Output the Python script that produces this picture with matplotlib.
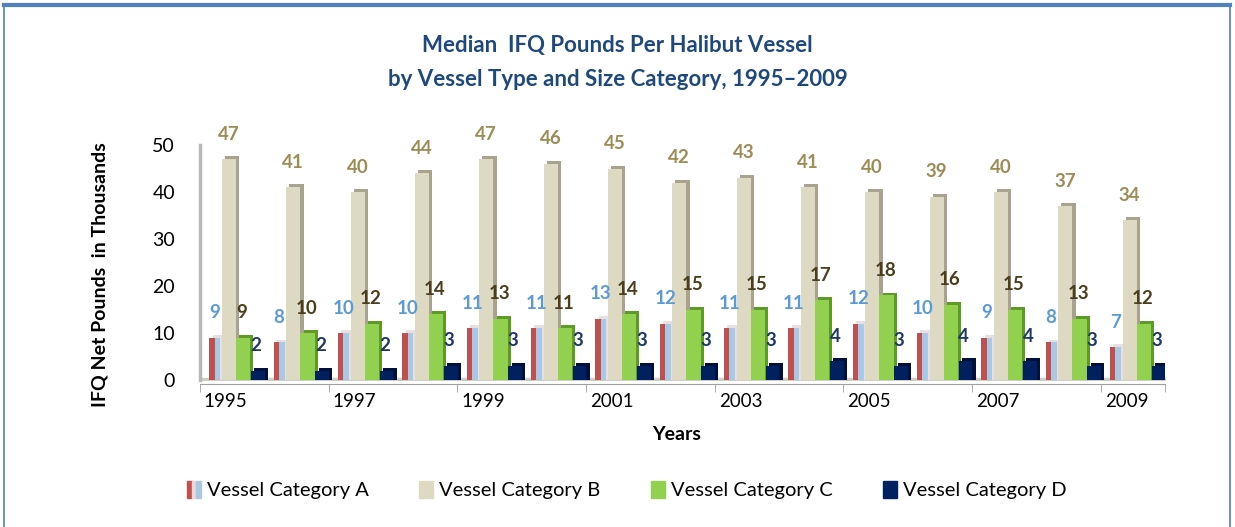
import matplotlib
matplotlib.use("Agg")
import matplotlib.pyplot as plt
from matplotlib.patches import Patch
from matplotlib.legend_handler import HandlerTuple
from matplotlib.lines import Line2D

plt.rcParams["font.family"] = ["Lato", "DejaVu Sans"]

years = list(range(1995, 2010))
cat_a = [9, 8, 10, 10, 11, 11, 13, 12, 11, 11, 12, 10, 9, 8, 7]
cat_b = [47, 41, 40, 44, 47, 46, 45, 42, 43, 41, 40, 39, 40, 37, 34]
cat_c = [9, 10, 12, 14, 13, 11, 14, 15, 15, 17, 18, 16, 15, 13, 12]
cat_d = [2, 2, 2, 3, 3, 3, 3, 3, 3, 4, 3, 4, 4, 3, 3]
series_names = ["Vessel Category A", "Vessel Category B", "Vessel Category C", "Vessel Category D"]

RED_A = "#C0504D"
BLUE_A = "#A8C8E6"
BEIGE = "#DDD9C3"
GREEN = "#92D050"
NAVY = "#002060"

fig = plt.figure(figsize=(12.35, 5.27), dpi=100)
ax = fig.add_axes([200 / 1235, 147 / 527, 965 / 1235, 235 / 527])

x = list(range(len(years)))
dx, dy = 0.05, 0.6  # depth offset for pseudo-3D look


def bars3d(offset, width, vals, face, side):
    xs = [i + offset for i in x]
    ax.bar([v + dx for v in xs], [h + dy for h in vals], width=width, color=side, zorder=2)
    return ax.bar(xs, vals, width=width, color=face, zorder=3)


# category A: split red / light blue column
xa = [i - 0.27 for i in x]
ax.bar([v + dx for v in xa], [h + dy for h in cat_a], width=0.17, color="#E8E0E0", zorder=2)
ax.bar([v - 0.0425 for v in xa], cat_a, width=0.085, color=RED_A, zorder=3)
ax.bar([v + 0.0425 for v in xa], cat_a, width=0.085, color=BLUE_A, zorder=3)
bars3d(-0.05, 0.22, cat_b, BEIGE, "#A8A38E")
bars3d(0.17, 0.22, cat_c, GREEN, "#5E9A26")
bars3d(0.40, 0.21, cat_d, NAVY, "#00103A")

# value labels
for vals, off, col in [(cat_a, -0.27, "#5B9BD5"), (cat_b, -0.05, "#9C8C56"),
                       (cat_c, 0.15, "#4A3E1C"), (cat_d, 0.37, "#1F3864")]:
    for i, v in zip(x, vals):
        ax.text(i + off, v + 5.3, f"{v}", ha="center", va="center", fontsize=13.5,
                fontweight="bold", color=col, zorder=5)

# floor and wall
ax.fill_between([-0.5, 14.5], -0.7, 0.4, color="#CFCDC4", zorder=1)
ax.plot([-0.5, -0.5], [0, 50], color="#B8B8B8", lw=2.5, zorder=1, clip_on=False)

ax.set_xlim(-0.5, 14.5)
ax.set_ylim(0, 50)
for s in ["top", "right", "left"]:
    ax.spines[s].set_visible(False)
ax.spines["bottom"].set_color("#A0A0A0")
ax.spines["bottom"].set_position(("data", -0.8))

ax.set_yticks(range(0, 51, 10))
ax.tick_params(axis="y", length=0, labelsize=14, pad=18)
ax.set_xticks([i - 0.1 for i in x[::2]])
ax.set_xticklabels([str(y) for y in years[::2]], fontsize=13.5)
ax.set_xticks([i - 0.5 for i in x[::2]] + [14.5], minor=True)
ax.tick_params(axis="x", which="major", length=0, pad=7)
ax.tick_params(axis="x", which="minor", length=6, color="#A0A0A0")

fig.text(0.5, 1 - 45 / 527, "Median  IFQ Pounds Per Halibut Vessel", ha="center", va="center",
         fontsize=16, fontweight="bold", color="#1F497D")
fig.text(0.5, 1 - 80 / 527, "by Vessel Type and Size Category, 1995\u20132009", ha="center",
         va="center", fontsize=16, fontweight="bold", color="#1F497D")
fig.text(100 / 1235, 1 - 275 / 527, "IFQ Net Pounds  in Thousands", rotation=90, ha="center",
         va="center", fontsize=14, fontweight="bold")
fig.text(677 / 1235, 1 - 435 / 527, "Years", ha="center", va="center", fontsize=14,
         fontweight="bold")

handles = [
    (Patch(color=RED_A), Patch(color="#E8D8D8"), Patch(color=BLUE_A)),
    Patch(color=BEIGE),
    Patch(color=GREEN),
    Patch(color=NAVY),
]
fig.legend(handles, series_names, loc="center", bbox_to_anchor=(627 / 1235, 1 - 490 / 527),
           ncol=4, frameon=False, fontsize=14.5, handlelength=0.7, handleheight=0.9,
           handletextpad=0.3, columnspacing=2.5,
           handler_map={tuple: HandlerTuple(ndivide=None, pad=0)})

# blue frame
fig.add_artist(Line2D([0.003, 0.996], [1 - 5 / 527] * 2, color="#4F81BD", lw=3,
                      transform=fig.transFigure))
fig.add_artist(Line2D([0.003, 0.003], [0, 1 - 5 / 527], color="#4F81BD", lw=1.2,
                      transform=fig.transFigure))
fig.add_artist(Line2D([0.996, 0.996], [0, 1 - 5 / 527], color="#4F81BD", lw=1.2,
                      transform=fig.transFigure))

fig.savefig("out.png", dpi=100)
